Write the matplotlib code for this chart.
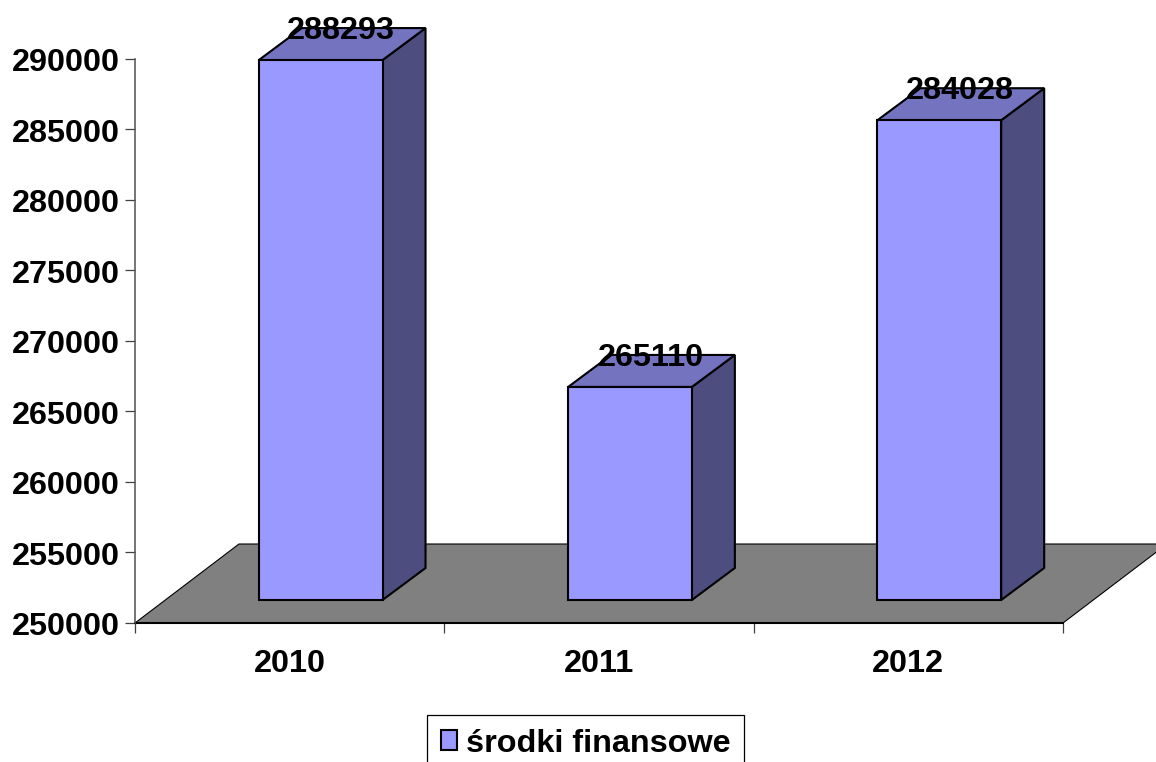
import matplotlib
matplotlib.use("Agg")
import matplotlib.pyplot as plt
from matplotlib.patches import Polygon, Patch
from matplotlib.transforms import Affine2D

categories = ["2010", "2011", "2012"]
values = [288293, 265110, 284028]
series_name = "środki finansowe"
y_ticks = [250000, 255000, 260000, 265000, 270000, 275000, 280000, 285000, 290000]

plt.rcParams["font.family"] = ["Liberation Sans", "DejaVu Sans"]
plt.rcParams["font.weight"] = "bold"
FS = 23.35
W, H = 1156, 762
fig = plt.figure(figsize=(W / 100, H / 100), dpi=100)
ax = fig.add_axes([135 / W, (H - 623) / H, (1063 - 135) / W, (623 - 59) / H])
ax.set_xlim(0, 3)
ax.set_ylim(250000, 290000)
ymin = 250000


def off(dx, dy):
    return Affine2D().translate(dx, dy)


# depth offsets in pixels
floor_d = (104, 79)
front_d = (31, 23)
back_d = (74, 55)
hw = 0.2
front_c, top_c, side_c = "#9999FF", "#7373BF", "#4D4D80"
lw = 1.5

# floor: parallelogram from the axis baseline to the back wall
fx0, fy0 = ax.transData.transform((0, ymin))
fx1, fy1 = ax.transData.transform((3, ymin))
ax.add_patch(Polygon([(fx0, fy0), (fx1, fy1), (fx1 + floor_d[0], fy1 + floor_d[1]),
                      (fx0 + floor_d[0], fy0 + floor_d[1])], closed=True, transform=None,
                     facecolor="#808080", edgecolor="black", lw=0.8, clip_on=False, zorder=1))

for i, v in enumerate(values):
    xc = i + 0.5
    fl, fr = xc - hw, xc + hw
    (lx, by), (rx, ty) = ax.transData.transform([(fl, ymin), (fr, v)])
    lx += front_d[0]; rx += front_d[0]
    by += front_d[1]; ty += front_d[1]
    ddx, ddy = back_d[0] - front_d[0], back_d[1] - front_d[1]
    kw = dict(closed=True, transform=None, edgecolor="black", lw=lw, clip_on=False, zorder=3, joinstyle="miter")
    ax.add_patch(Polygon([(rx, by), (rx + ddx, by + ddy), (rx + ddx, ty + ddy), (rx, ty)], facecolor=side_c, **kw))
    ax.add_patch(Polygon([(lx, ty), (rx, ty), (rx + ddx, ty + ddy), (lx + ddx, ty + ddy)], facecolor=top_c, **kw))
    ax.add_patch(Polygon([(lx, by), (rx, by), (rx, ty), (lx, ty)], facecolor=front_c, **kw))
    ax.text(xc, v, str(v), transform=ax.transData + off(51.5, 52), ha="center", va="center",
            fontsize=FS, fontweight="bold", color="black", zorder=5, clip_on=False)

for s in ("top", "right"):
    ax.spines[s].set_visible(False)
ax.spines["left"].set_color("#505050")
ax.spines["left"].set_linewidth(1.1)
ax.spines["bottom"].set_color("black")
ax.spines["bottom"].set_linewidth(1.5)
ax.spines["bottom"].set_zorder(2)
ax.patch.set_visible(False)

ax.set_yticks(y_ticks)
ax.set_yticklabels([str(t) for t in y_ticks])
ax.set_xticks([0, 1, 2, 3])
ax.set_xticklabels([])
ax.set_xticks([0.5, 1.5, 2.5], minor=True)
ax.set_xticklabels(categories, minor=True)
ax.tick_params(axis="x", which="major", length=7.2, width=0.9, color="#404040", direction="out")
ax.tick_params(axis="x", which="minor", length=0, pad=19, labelsize=FS)
ax.tick_params(axis="y", length=7.2, width=0.9, color="#404040", pad=4, labelsize=FS)
for t in ax.get_xticklabels(minor=True) + ax.get_yticklabels():
    t.set_fontweight("bold")
for t in ax.get_yticklabels():
    t.set_transform(t.get_transform() + off(0, -1))

leg = fig.legend(handles=[Patch(facecolor=front_c, edgecolor="black", lw=1.5, label=series_name)],
                 loc="upper left", bbox_to_anchor=(427 / W, (H - 715) / H), borderaxespad=0,
                 fancybox=False, framealpha=1, edgecolor="black",
                 handlelength=0.52, handleheight=0.58, handletextpad=0.26, borderpad=0.42,
                 prop={"family": "Liberation Sans", "weight": "bold", "size": FS})
leg.get_frame().set_linewidth(0.9)

fig.savefig("out.png", dpi=100)
